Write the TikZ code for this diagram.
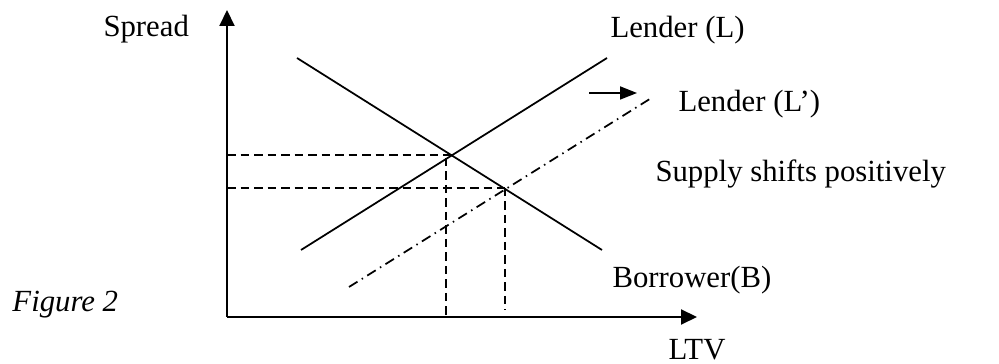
\documentclass[tikz,border=0pt]{standalone}
\usepackage{fontspec}
\setmainfont{Liberation Serif}
\usetikzlibrary{arrows.meta}
\begin{document}
\begin{tikzpicture}[x=0.4pt,y=-0.4pt,
  lbl/.style={anchor=base west,inner sep=0pt,font=\fontsize{12.3pt}{14pt}\selectfont},
  axis/.style={line width=0.8pt,-{Triangle[length=6.4pt,width=6pt]}},
  curve/.style={line width=0.7pt},
  guide/.style={line width=0.7pt,dash pattern=on 3.4pt off 2pt},
  shifted/.style={line width=0.7pt,dash pattern=on 4pt off 2pt on 0.6pt off 2pt},
  shiftarrow/.style={line width=0.7pt,-{Triangle[length=6.8pt,width=5.2pt]}}]
\useasboundingbox (0,0) rectangle (999,364);
% axes
\coordinate (O) at (227,317);
\coordinate (Ytip) at (227,10);
\coordinate (Xtip) at (697,317);
\draw[axis] (O) -- (Ytip);
\draw[axis] (O) -- (Xtip);
% curves
\coordinate (B1) at (297,58);
\coordinate (B2) at (602,250);
\coordinate (L1) at (301,250);
\coordinate (L2) at (607,58);
\coordinate (P1) at (349,287);
\coordinate (P2) at (653,97);
\draw[curve] (B1) -- (B2);
\draw[curve] (L1) -- (L2);
\draw[shifted] (P1) -- (P2);
% equilibrium guides
\coordinate (E1y) at (227,155);
\coordinate (E1) at (452,155);
\coordinate (E1t) at (446,158);
\coordinate (E1b) at (446,317);
\coordinate (E2y) at (227,188);
\coordinate (E2) at (505,188);
\coordinate (E2b) at (505,310);
\draw[guide] (E1y) -- (E1);
\draw[guide] (E1t) -- (E1b);
\draw[guide] (E2y) -- (E2);
\draw[guide] (E2) -- (E2b);
% shift arrow
\coordinate (S1) at (589,93);
\coordinate (S2) at (637,93);
\draw[shiftarrow] (S1) -- (S2);
% labels
\node[lbl] (spread) at (103,37) {Spread};
\node[lbl] (lend) at (610,38) {Lender (L)};
\node[lbl] (lendp) at (678,112) {Lender (L’)};
\node[lbl] (supply) at (655,182) {Supply shifts positively};
\node[lbl] (borr) at (612,288) {Borrower(B)};
\node[lbl] (fig) at (12,312) {\itshape Figure 2};
\node[lbl] (ltv) at (668,360) {LTV};
\end{tikzpicture}
\end{document}
